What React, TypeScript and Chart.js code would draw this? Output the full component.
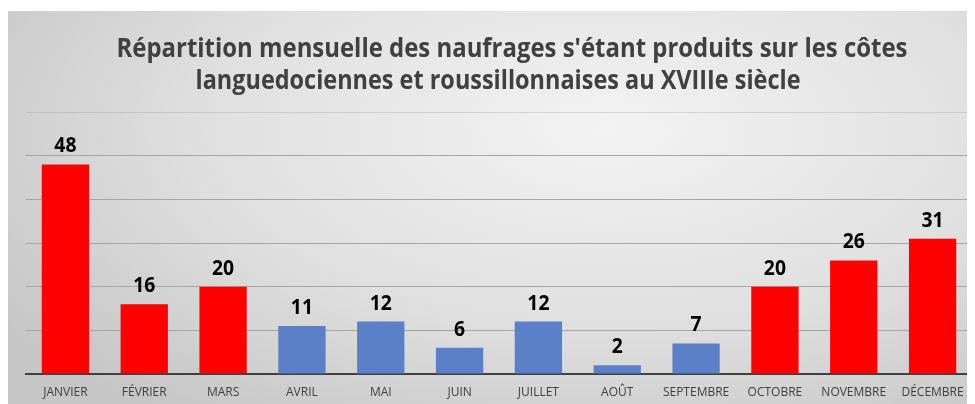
import React, { useEffect, useRef } from "react";
import { Chart, registerables } from "chart.js";

Chart.register(...registerables);

const TITLE_LINES = [
  "Répartition mensuelle des naufrages s'étant produits sur les côtes",
  "languedociennes et roussillonnaises au XVIIIe siècle",
];
const MONTHS = [
  "JANVIER", "FÉVRIER", "MARS", "AVRIL", "MAI", "JUIN",
  "JUILLET", "AOÛT", "SEPTEMBRE", "OCTOBRE", "NOVEMBRE", "DÉCEMBRE",
];
const WRECKS = [48, 16, 20, 11, 12, 6, 12, 2, 7, 20, 26, 31];
const WINTER = [true, true, true, false, false, false, false, false, false, true, true, true];
const Y_MAX = 60;
const Y_STEP = 10;

const RED = "#ff0000";
const BLUE = "#5b80c8";
const FONT = "'Open Sans', sans-serif";

const titlePlugin = {
  id: "customTitle",
  afterDraw(chart: any) {
    const ctx = chart.ctx;
    ctx.save();
    ctx.fillStyle = "#404040";
    ctx.font = `bold 27px ${FONT}`;
    ctx.textAlign = "center";
    ctx.textBaseline = "middle";
    ctx.fillText(TITLE_LINES[0], 504, 38, 791);
    ctx.fillText(TITLE_LINES[1], 490, 70, 605);
    ctx.restore();
  },
};

const labelPlugin = {
  id: "barLabels",
  afterDatasetsDraw(chart: any) {
    const ctx = chart.ctx;
    const meta = chart.getDatasetMeta(0);
    ctx.save();
    ctx.fillStyle = "#000000";
    ctx.font = `bold 21px ${FONT}`;
    ctx.textAlign = "center";
    ctx.textBaseline = "alphabetic";
    meta.data.forEach((bar: any, i: number) => {
      const t = String(WRECKS[i]);
      const w = ctx.measureText(t).width * 0.92;
      ctx.fillText(t, bar.x, bar.y - 12, w);
    });
    ctx.restore();
  },
};

export default function App() {
  const ref = useRef<HTMLCanvasElement | null>(null);
  useEffect(() => {
    if (!ref.current) return;
    const chart = new Chart(ref.current, {
      type: "bar",
      data: {
        labels: MONTHS,
        datasets: [
          {
            data: WRECKS,
            backgroundColor: WINTER.map((w) => (w ? RED : BLUE)),
            barPercentage: 0.6,
            categoryPercentage: 1,
          },
        ],
      },
      options: {
        animation: false,
        responsive: false,
        layout: { padding: { left: 18, right: 3, top: 101, bottom: 4 } },
        plugins: { legend: { display: false }, title: { display: false }, tooltip: { enabled: false } },
        scales: {
          x: {
            grid: { display: false, drawTicks: false },
            border: { display: true, color: "#404040", width: 2 },
            ticks: {
              color: "#404040",
              font: { family: FONT, size: 12 },
              padding: 11,
              maxRotation: 0,
              autoSkip: false,
            },
            afterFit: (s: any) => { s.height = 26; },
          },
          y: {
            min: 0,
            max: Y_MAX,
            ticks: { display: false, stepSize: Y_STEP },
            border: { display: false },
            grid: {
              drawTicks: false,
              color: (c: any) => (c.tick && c.tick.value === Y_MAX ? "rgba(160,160,160,0.35)" : "#a6a6a6"),
              lineWidth: 1,
            },
            afterFit: (s: any) => { s.width = 0; },
          },
        },
      },
      plugins: [titlePlugin, labelPlugin],
    });
    return () => chart.destroy();
  }, []);
  return (
    <div
      style={{
        marginTop: 3,
        width: 967,
        height: 393,
        background:
          "radial-gradient(ellipse 75% 90% at 62% 30%, #f3f3f3 0%, #e0e0e0 55%, #c6c6c6 100%)",
      }}
    >
      <canvas ref={ref} width={967} height={393} style={{ display: "block" }} />
    </div>
  );
}
